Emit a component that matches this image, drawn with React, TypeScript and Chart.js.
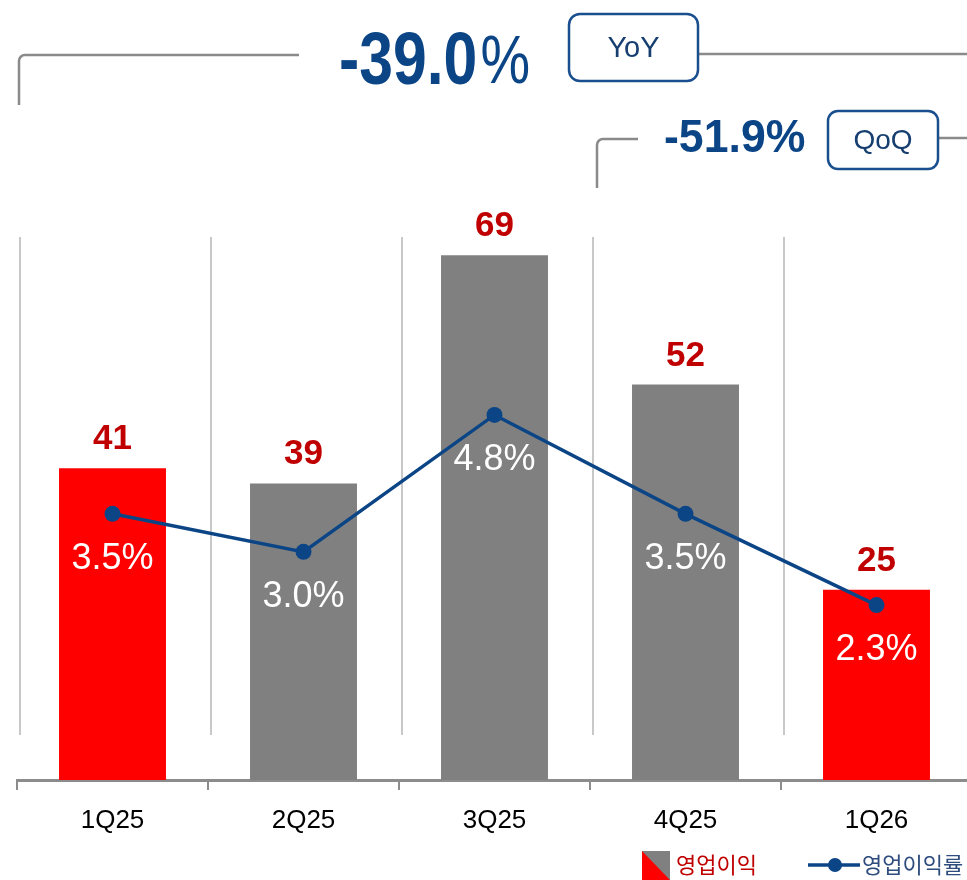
import React, { useEffect, useRef } from 'react';
import { Chart, registerables } from 'chart.js';

Chart.register(...registerables);

// ---- data ----
const categories = ['1Q25', '2Q25', '3Q25', '4Q25', '1Q26'];
const operatingProfit = [41, 39, 69, 52, 25];
const operatingMargin = [3.5, 3.0, 4.8, 3.5, 2.3];
const highlightedQuarters = ['1Q25', '1Q26'];
const seriesNames = ['영업이익', '영업이익률'];
const yoyValue = '-39.0';
const qoqValue = '-51.9%';
const yoyTag = 'YoY';
const qoqTag = 'QoQ';

const NUM_FONT = '"Liberation Sans", Arial, sans-serif';
const KR_FONT = '"Noto Sans CJK KR", "Noto Sans", sans-serif';
const RED = '#FF0000';
const GRAY = '#808080';
const NAVY = '#0B4586';
const DARK_RED = '#C00000';
const CONNECTOR = '#8A8A8A';

const overlayPlugin = {
  id: 'overlay',
  beforeDatasetsDraw(chart: any) {
    const { ctx, chartArea } = chart;
    const xs = chart.scales.x;
    const half = (xs.getPixelForValue(1) - xs.getPixelForValue(0)) / 2;
    ctx.save();
    ctx.strokeStyle = '#C8C8C8';
    ctx.lineWidth = 2;
    categories.forEach((_, i) => {
      const px = Math.round(xs.getPixelForValue(i) - half + 3);
      ctx.beginPath();
      ctx.moveTo(px, chartArea.top + 35);
      ctx.lineTo(px, chartArea.bottom - 45);
      ctx.stroke();
    });
    ctx.restore();
  },
  afterDatasetsDraw(chart: any) {
    const { ctx } = chart;
    const barMeta = chart.getDatasetMeta(1);
    const lineMeta = chart.getDatasetMeta(0);
    ctx.save();
    ctx.textAlign = 'center';
    ctx.textBaseline = 'alphabetic';
    ctx.font = `bold 35px ${NUM_FONT}`;
    ctx.fillStyle = DARK_RED;
    barMeta.data.forEach((el: any, i: number) => {
      ctx.fillText(String(operatingProfit[i]), el.x, el.y - 19);
    });
    ctx.font = `36px ${NUM_FONT}`;
    ctx.fillStyle = '#FFFFFF';
    lineMeta.data.forEach((el: any, i: number) => {
      ctx.fillText(operatingMargin[i].toFixed(1) + '%', el.x, el.y + 55);
    });
    ctx.restore();
  },
  afterDraw(chart: any) {
    const { ctx } = chart;
    ctx.save();
    // connectors
    ctx.strokeStyle = CONNECTOR;
    ctx.lineWidth = 2.5;
    ctx.beginPath();
    ctx.moveTo(19, 105);
    ctx.lineTo(19, 61);
    ctx.arcTo(19, 55, 25, 55, 6);
    ctx.lineTo(299, 55);
    ctx.stroke();
    ctx.beginPath();
    ctx.moveTo(698, 54);
    ctx.lineTo(980, 54);
    ctx.stroke();
    ctx.beginPath();
    ctx.moveTo(597, 188);
    ctx.lineTo(597, 145);
    ctx.arcTo(597, 139, 603, 139, 6);
    ctx.lineTo(638, 139);
    ctx.stroke();
    ctx.beginPath();
    ctx.moveTo(938, 138);
    ctx.lineTo(980, 138);
    ctx.stroke();

    // YoY big number (condensed)
    ctx.fillStyle = NAVY;
    ctx.textBaseline = 'alphabetic';
    ctx.textAlign = 'left';
    ctx.save();
    ctx.translate(339, 84);
    ctx.scale(0.82, 1);
    ctx.font = `bold 74px ${NUM_FONT}`;
    ctx.fillText(yoyValue, 0, 0);
    const w = ctx.measureText(yoyValue).width;
    ctx.font = `68px ${NUM_FONT}`;
    ctx.fillText('%', w + 4, -1);
    ctx.restore();

    // QoQ number
    ctx.save();
    ctx.translate(664, 152);
    ctx.scale(0.97, 1);
    ctx.font = `bold 46px ${NUM_FONT}`;
    ctx.fillText(qoqValue, 0, 0);
    ctx.restore();

    // tag boxes
    const box = (x: number, y: number, w2: number, h: number, r: number, text: string, size: number) => {
      ctx.beginPath();
      ctx.roundRect(x, y, w2, h, r);
      ctx.fillStyle = '#FFFFFF';
      ctx.fill();
      ctx.strokeStyle = '#1A4F8F';
      ctx.lineWidth = 2.5;
      ctx.stroke();
      ctx.fillStyle = '#163F70';
      ctx.font = `${size}px ${NUM_FONT}`;
      ctx.textAlign = 'center';
      ctx.textBaseline = 'middle';
      ctx.fillText(text, x + w2 / 2, y + h / 2 + 1);
    };
    box(569, 14, 129, 67, 11, yoyTag, 29);
    box(828, 111, 110, 58, 10, qoqTag, 28);

    // legend
    const ly = 865;
    ctx.fillStyle = GRAY;
    ctx.fillRect(642, 851, 28, 29);
    ctx.fillStyle = RED;
    ctx.beginPath();
    ctx.moveTo(642, 851);
    ctx.lineTo(670, 880);
    ctx.lineTo(642, 880);
    ctx.closePath();
    ctx.fill();
    ctx.font = `22px ${KR_FONT}`;
    ctx.textAlign = 'left';
    ctx.textBaseline = 'middle';
    ctx.fillStyle = DARK_RED;
    ctx.fillText(seriesNames[0], 676, ly);
    ctx.strokeStyle = NAVY;
    ctx.lineWidth = 3.5;
    ctx.beginPath();
    ctx.moveTo(808, ly);
    ctx.lineTo(860, ly);
    ctx.stroke();
    ctx.fillStyle = NAVY;
    ctx.beginPath();
    ctx.arc(835, ly, 7, 0, Math.PI * 2);
    ctx.fill();
    ctx.fillStyle = '#2F4C7E';
    ctx.fillText(seriesNames[1], 862, ly);
    ctx.restore();
  },
};

export default function App() {
  const ref = useRef<HTMLCanvasElement>(null);
  useEffect(() => {
    if (!ref.current) return;
    const chart = new Chart(ref.current, {
      type: 'bar',
      data: {
        labels: categories,
        datasets: [
          {
            type: 'line',
            label: seriesNames[1],
            data: operatingMargin,
            yAxisID: 'y1',
            borderColor: NAVY,
            backgroundColor: NAVY,
            borderWidth: 3.5,
            pointRadius: 8,
            pointHoverRadius: 8,
            pointBackgroundColor: NAVY,
            pointBorderWidth: 0,
            tension: 0,
            order: 0,
          } as any,
          {
            type: 'bar',
            label: seriesNames[0],
            data: operatingProfit,
            yAxisID: 'y',
            backgroundColor: categories.map((c) => (highlightedQuarters.includes(c) ? RED : GRAY)),
            borderWidth: 0,
            barPercentage: 0.56,
            categoryPercentage: 1,
            order: 1,
          },
        ],
      },
      options: {
        responsive: false,
        animation: false,
        devicePixelRatio: 1,
        layout: { padding: { top: 202, left: 17, right: 4, bottom: 0 } },
        plugins: { legend: { display: false }, tooltip: { enabled: false } },
        scales: {
          x: {
            offset: true,
            afterFit: (s: any) => {
              s.height = 100;
            },
            grid: {
              offset: true,
              drawOnChartArea: false,
              drawTicks: true,
              tickLength: 10,
              color: '#8C8C8C',
              lineWidth: 2,
            },
            border: { display: true, color: '#8C8C8C', width: 3 },
            ticks: {
              color: '#000000',
              font: { family: NUM_FONT, size: 26 },
              padding: 15,
              maxRotation: 0,
            },
          },
          y: { display: false, min: 0, max: 76 },
          y1: { display: false, min: 0, max: 7.6 },
        },
      },
      plugins: [overlayPlugin],
    } as any);
    return () => chart.destroy();
  }, []);
  return (
    <div style={{ position: 'fixed', left: 0, top: 0, width: 967, height: 880, overflow: 'hidden', background: '#fff' }}>
      <canvas ref={ref} width={980} height={880} style={{ display: 'block' }} />
    </div>
  );
}
